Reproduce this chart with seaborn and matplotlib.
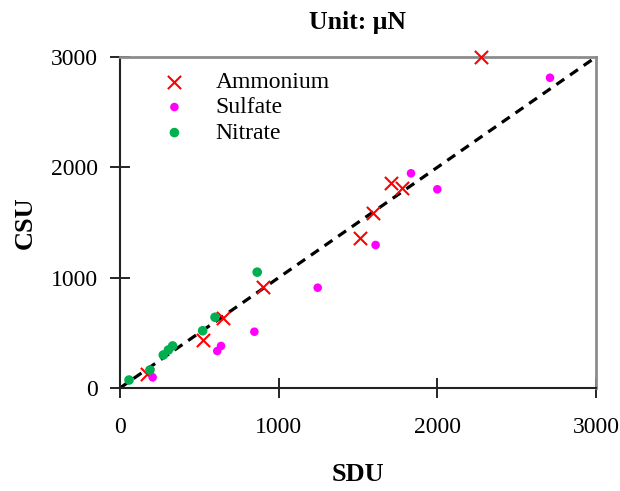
import matplotlib
matplotlib.use("Agg")
import matplotlib.pyplot as plt
import seaborn as sns
import pandas as pd

# Data (SDU vs CSU, unit: µN)
ammonium_sdu = [2275, 1708, 1775, 1597, 1513, 903, 651, 521, 170]
ammonium_csu = [3000, 1855, 1810, 1583, 1357, 913, 632, 435, 130]
sulfate_sdu = [2710, 1834, 2000, 1611, 1246, 847, 637, 613, 206]
sulfate_csu = [2812, 1946, 1801, 1296, 909, 510, 381, 335, 97]
nitrate_sdu = [865, 599, 521, 332, 305, 273, 189, 57]
nitrate_csu = [1050, 641, 519, 381, 344, 299, 163, 72]
series_names = ["Ammonium", "Sulfate", "Nitrate"]
ticks = [0, 1000, 2000, 3000]

df = pd.concat([
    pd.DataFrame({"SDU": ammonium_sdu, "CSU": ammonium_csu, "Series": "Ammonium"}),
    pd.DataFrame({"SDU": sulfate_sdu, "CSU": sulfate_csu, "Series": "Sulfate"}),
    pd.DataFrame({"SDU": nitrate_sdu, "CSU": nitrate_csu, "Series": "Nitrate"}),
], ignore_index=True)

sns.set_style("white")
plt.rcParams["font.family"] = ["Liberation Serif", "DejaVu Serif"]
plt.rcParams["text.color"] = "black"
plt.rcParams["axes.labelcolor"] = "black"
plt.rcParams["xtick.color"] = "black"
plt.rcParams["ytick.color"] = "black"

fig = plt.figure(figsize=(6.2, 4.91), dpi=100)
ax = fig.add_axes([0.1935, 0.2098, 0.7678, 0.6741])

ax.plot([0, 3000], [0, 3000], color="black", linestyle=(0, (3, 2.2)), linewidth=2.3, zorder=1)

styles = {
    "Ammonium": dict(marker="x", color="#FF0000", s=90, linewidth=1.5),
    "Sulfate": dict(marker="o", color="#FF00FF", s=38, linewidth=0),
    "Nitrate": dict(marker="o", color="#00B050", s=48, linewidth=0),
}
for name in series_names:
    sub = df[df["Series"] == name]
    st = styles[name]
    sns.scatterplot(data=sub, x="SDU", y="CSU", ax=ax, label=name, zorder=3,
                    marker=st["marker"], color=st["color"], s=st["s"],
                    linewidth=st["linewidth"], edgecolor=st["color"] if st["marker"] == "x" else "none",
                    clip_on=False)

ax.set_xlim(0, 3000)
ax.set_ylim(0, 3000)
ax.set_xticks(ticks)
ax.set_yticks(ticks)
ax.set_xticklabels([str(t) for t in ticks])
ax.set_yticklabels([str(t) for t in ticks])
ax.tick_params(axis="both", direction="inout", length=14, width=1.2, colors="black",
               labelsize=17, bottom=True, left=True, top=False, right=False)
ax.tick_params(axis="x", pad=14)
ax.tick_params(axis="y", pad=9)

for side in ["left", "bottom"]:
    ax.spines[side].set_color("#222222")
    ax.spines[side].set_linewidth(1.5)
for side in ["top", "right"]:
    ax.spines[side].set_color("#8c8c8c")
    ax.spines[side].set_linewidth(2)

ax.set_xlabel("SDU", fontsize=19, fontweight="bold", labelpad=18)
ax.set_ylabel("CSU", fontsize=19, fontweight="bold", labelpad=10)
ax.set_title("Unit: μN", fontsize=18.5, fontweight="bold", pad=20)

leg = ax.legend(loc="upper left", bbox_to_anchor=(0.035, 1.0), frameon=False,
                fontsize=17, handletextpad=0.75, labelspacing=0.17, borderaxespad=0.2)

fig.savefig("out.png", dpi=100)
